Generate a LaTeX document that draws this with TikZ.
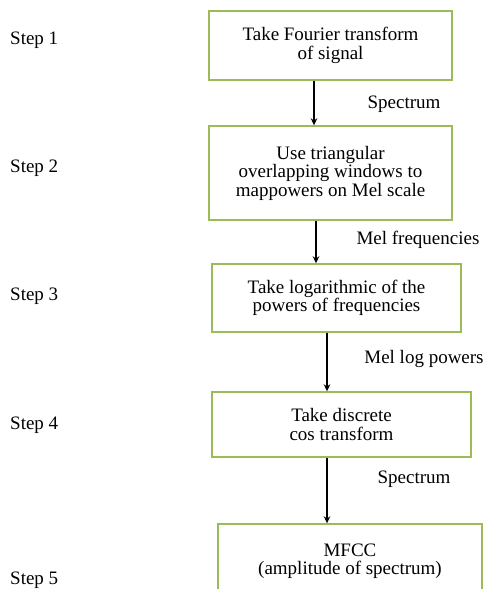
\documentclass[tikz,border=0pt]{standalone}
\usepackage{fontspec}
\setmainfont{Liberation Serif}
\usetikzlibrary{arrows.meta}
\definecolor{boxgreen}{HTML}{9BBB59}
\begin{document}
\begin{tikzpicture}[x=1pt,y=1pt,->,>={Stealth[length=7pt,width=6.5pt]},draw=black!100]
	\def \rowone{543.5}
	\def \rowtwo{416}
	\def \rowthree{291}
	\def \rowfour{164.5}
	\def \rowfive{28}
	\tikzstyle{s-node}=[rectangle,draw=boxgreen,line width=1.4pt,inner sep=0pt,align=center]
	\tikzstyle{annot}=[anchor=west,inner sep=0pt]
	\tikzstyle{flow}=[inner sep=0pt]
	\useasboundingbox (0,0) rectangle (490,589);
	\clip (0,0) rectangle (490,589);
	\fontsize{19}{18.5}\selectfont
	% labels
	\node[annot] (s1) at (10,549) {Step 1};
	\node[annot] (s2) at (10,421) {Step 2};
	\node[annot] (s3) at (10,293) {Step 3};
	\node[annot] (s4) at (10,164) {Step 4};
	\node[annot] (s5) at (10,9)   {Step 5};
	
	\node[flow] (f1) at (404,485) {Spectrum};
	\node[flow] (f2) at (418,349) {Mel frequencies};
	\node[flow] (f3) at (424,230) {Mel log powers};
	\node[flow] (f4) at (414,110) {Spectrum};
	
	% steps
	\node[s-node,minimum width=243,minimum height=69] (b1) at (330.5,\rowone)   {Take Fourier transform\\of signal};
	\node[s-node,minimum width=243,minimum height=94] (b2) at (330.5,\rowtwo)   {Use triangular\\overlapping windows to\\mappowers on Mel scale};
	\node[s-node,minimum width=249,minimum height=68] (b3) at (336.5,\rowthree) {Take logarithmic of the\\powers of frequencies};
	\node[s-node,minimum width=259,minimum height=65] (b4) at (341.5,\rowfour)  {Take discrete\\cos transform};
	\node[s-node,minimum width=264,minimum height=74] (b5) at (350,\rowfive)    {MFCC\\(amplitude of spectrum)};
	
	% arrow positions
	\coordinate (x1) at (314,0);
	\coordinate (x2) at (316,0);
	\coordinate (x3) at (327,0);
	\coordinate (x4) at (327,0);
	
	\path[line width=1.2pt]
		(b1.south -| x1)	edge	(b2.north -| x1)
		(b2.south -| x2)	edge	(b3.north -| x2)
		(b3.south -| x3)	edge	(b4.north -| x3)
		(b4.south -| x4)	edge	(b5.north -| x4);
\end{tikzpicture}
\end{document}
